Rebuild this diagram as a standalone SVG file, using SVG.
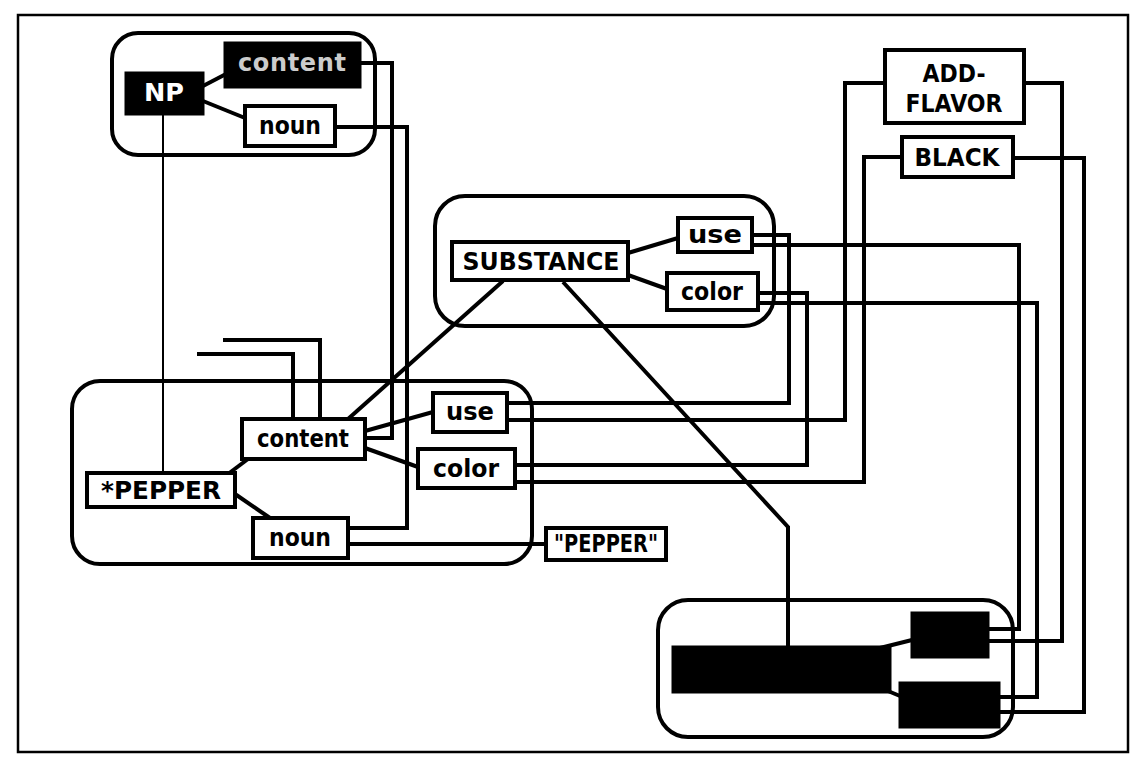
<svg xmlns="http://www.w3.org/2000/svg" width="1146" height="768" viewBox="0 0 1146 768">
<style>
.frame{fill:none;stroke:#000;stroke-width:2.5}
.cl{fill:none;stroke:#000;stroke-width:4}
.box{fill:#fff;stroke:#000;stroke-width:4}
.blk{fill:#000;stroke:#000;stroke-width:3}
.c{fill:none;stroke:#000;stroke-width:4;stroke-linejoin:miter}
.thin{fill:none;stroke:#000;stroke-width:2}
text{font-family:"DejaVu Sans","Liberation Sans",sans-serif;font-weight:bold;font-size:24px;text-anchor:middle;fill:#000}
.w{fill:#fff}
.faint{fill:#ccc}
</style>
<rect width="1146" height="768" fill="#fff"/>
<rect class="frame" x="18" y="15" width="1110" height="737"/>

<g id="clusters">
<rect id="np-frame" class="cl" x="112" y="33" width="263" height="122" rx="26"/>
<rect id="pepper-frame" class="cl" x="72" y="381" width="460" height="183" rx="28"/>
<rect id="substance-frame" class="cl" x="435" y="196" width="339" height="130" rx="30"/>
<rect id="spice-frame" class="cl" x="658" y="600" width="355" height="137" rx="30"/>
</g>

<g id="connectors">
<line class="c" x1="203" y1="86" x2="226" y2="74"/>
<line class="c" x1="203" y1="101" x2="245" y2="118"/>
<polyline class="c" points="360,63 392,63 392,438 365,438"/>
<polyline class="c" points="335,127 407,127 407,528 348,528"/>
<line class="thin" x1="163" y1="114" x2="163" y2="473"/>
<line class="c" x1="228" y1="474" x2="248" y2="459"/>
<line class="c" x1="235" y1="494" x2="270" y2="518"/>
<line class="c" x1="365" y1="431" x2="433" y2="412"/>
<line class="c" x1="365" y1="448" x2="418" y2="467"/>
<polyline class="c" points="223,340 320,340 320,419"/>
<polyline class="c" points="197,354 293,354 293,419"/>
<line class="c" x1="348" y1="419" x2="503" y2="281"/>
<line class="c" x1="348" y1="544" x2="546" y2="544"/>
<line class="c" x1="628" y1="253" x2="678" y2="238"/>
<line class="c" x1="628" y1="275" x2="667" y2="289"/>
<polyline class="c" points="752,235 789,235 789,403 507,403"/>
<polyline class="c" points="752,245 1019,245 1019,629 988,629"/>
<polyline class="c" points="758,293 807,293 807,465 515,465"/>
<polyline class="c" points="758,303 1037,303 1037,697 999,697"/>
<polyline class="c" points="885,83 845,83 845,420 507,420"/>
<polyline class="c" points="1024,83 1062,83 1062,641 988,641"/>
<polyline class="c" points="902,157 864,157 864,482 515,482"/>
<polyline class="c" points="1013,158 1084,158 1084,712 999,712"/>
<polyline class="c" points="563,282 788,527 788,647"/>
<line class="c" x1="880" y1="648" x2="912" y2="640"/>
<line class="c" x1="888" y1="691" x2="900" y2="696"/>
</g>

<g id="NP"><rect class="blk" x="126" y="73" width="77" height="41"/><text class="w" x="164" y="101" font-size="18" textLength="40" lengthAdjust="spacingAndGlyphs">NP</text></g>
<g id="content-top"><rect class="blk" x="225" y="43" width="135" height="44"/><text class="faint" x="292" y="71" font-size="18" textLength="108" lengthAdjust="spacing">content</text></g>
<g id="noun-top"><rect class="box" x="245" y="106" width="90" height="40"/><text x="290" y="134" textLength="62" lengthAdjust="spacingAndGlyphs">noun</text></g>

<g id="ADD-FLAVOR"><rect class="box" x="885" y="50" width="139" height="73"/><text x="954" y="82" textLength="63" lengthAdjust="spacingAndGlyphs">ADD-</text><text x="954" y="112" textLength="97" lengthAdjust="spacingAndGlyphs">FLAVOR</text></g>
<g id="BLACK"><rect class="box" x="902" y="137" width="111" height="40"/><text x="957" y="166" textLength="85" lengthAdjust="spacingAndGlyphs">BLACK</text></g>

<g id="SUBSTANCE"><rect class="box" x="452" y="242" width="176" height="38"/><text x="541" y="270" textLength="157" lengthAdjust="spacingAndGlyphs">SUBSTANCE</text></g>
<g id="use-s"><rect class="box" x="678" y="218" width="74" height="34"/><text x="715" y="243" textLength="54" lengthAdjust="spacingAndGlyphs">use</text></g>
<g id="color-s"><rect class="box" x="667" y="273" width="91" height="37"/><text x="712" y="300" textLength="62" lengthAdjust="spacingAndGlyphs">color</text></g>

<g id="content-b"><rect class="box" x="242" y="419" width="123" height="40"/><text x="303" y="447" textLength="92" lengthAdjust="spacingAndGlyphs">content</text></g>
<g id="use-b"><rect class="box" x="433" y="393" width="74" height="39"/><text x="470" y="420" textLength="48" lengthAdjust="spacingAndGlyphs">use</text></g>
<g id="color-b"><rect class="box" x="418" y="449" width="97" height="39"/><text x="466" y="477" textLength="66" lengthAdjust="spacingAndGlyphs">color</text></g>
<g id="PEPPER-sym"><rect class="box" x="87" y="473" width="148" height="34"/><text x="161" y="499" textLength="120" lengthAdjust="spacingAndGlyphs">*PEPPER</text></g>
<g id="noun-b"><rect class="box" x="253" y="518" width="95" height="40"/><text x="300" y="546" textLength="62" lengthAdjust="spacingAndGlyphs">noun</text></g>
<g id="PEPPER-str"><rect class="box" x="546" y="528" width="120" height="32"/><text x="606" y="552" font-size="21" textLength="104" lengthAdjust="spacingAndGlyphs">"PEPPER"</text></g>

<g id="spice"><rect class="blk" x="673" y="647" width="217" height="45"/></g>
<g id="spice-use"><rect class="blk" x="912" y="613" width="76" height="44"/></g>
<g id="spice-color"><rect class="blk" x="900" y="683" width="99" height="44"/></g>
</svg>
